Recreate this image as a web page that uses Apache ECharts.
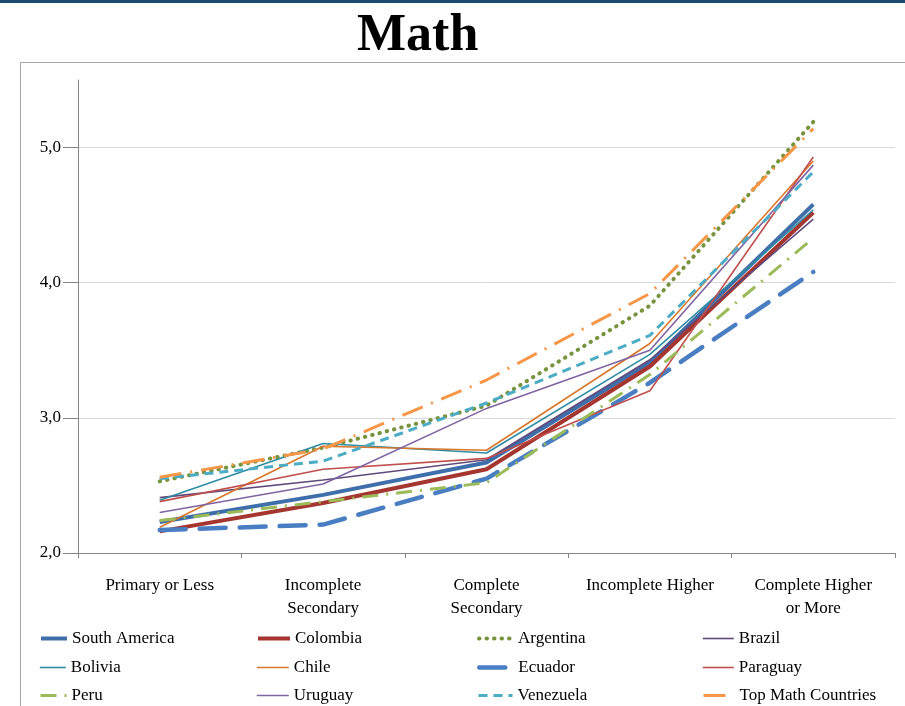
<!DOCTYPE html>
<html>
<head>
<meta charset="utf-8">
<style>html,body{margin:0;padding:0;background:#fff;}#c{width:905px;height:706px;}</style>
<script src="https://cdn.jsdelivr.net/npm/echarts@6/dist/echarts.min.js"></script>
</head>
<body>
<div id="c"></div>
<script>
var categories = ['Primary or Less', 'Incomplete\nSecondary', 'Complete\nSecondary', 'Incomplete Higher', 'Complete Higher\nor More'];
var yTicks = [2, 3, 4, 5];

var southAmerica = [2.23, 2.43, 2.67, 3.41, 4.58];
var colombia     = [2.16, 2.37, 2.62, 3.38, 4.52];
var argentina    = [2.53, 2.78, 3.09, 3.83, 5.19];
var brazil       = [2.41, 2.54, 2.69, 3.43, 4.47];
var bolivia      = [2.39, 2.81, 2.74, 3.47, 4.54];
var chile        = [2.19, 2.79, 2.76, 3.55, 4.90];
var ecuador      = [2.17, 2.21, 2.55, 3.26, 4.08];
var paraguay     = [2.38, 2.62, 2.70, 3.20, 4.93];
var peru         = [2.24, 2.38, 2.52, 3.32, 4.33];
var uruguay      = [2.30, 2.51, 3.07, 3.50, 4.87];
var venezuela    = [2.55, 2.68, 3.11, 3.61, 4.82];
var topMath      = [2.56, 2.77, 3.28, 3.92, 5.14];

var seriesDefs = [
  {name: 'South America', data: southAmerica, color: '#3F6FAA', width: 4, type: 'solid'},
  {name: 'Colombia', data: colombia, color: '#A5352F', width: 4, type: 'solid'},
  {name: 'Argentina', data: argentina, color: '#77933C', width: 4, type: [0.5, 7], cap: 'round'},
  {name: 'Brazil', data: brazil, color: '#604A7B', width: 1.6, type: 'solid'},
  {name: 'Bolivia', data: bolivia, color: '#2E8CA3', width: 1.6, type: 'solid'},
  {name: 'Chile', data: chile, color: '#D9772B', width: 1.6, type: 'solid'},
  {name: 'Ecuador', data: ecuador, color: '#4A7EC2', width: 4.5, type: [26, 14], cap: 'round'},
  {name: 'Paraguay', data: paraguay, color: '#C0504D', width: 1.6, type: 'solid'},
  {name: 'Peru', data: peru, color: '#9BBB59', width: 3, type: [16, 8, 2, 8]},
  {name: 'Uruguay', data: uruguay, color: '#8064A2', width: 1.6, type: 'solid'},
  {name: 'Venezuela', data: venezuela, color: '#4BACC6', width: 3, type: [9, 6]},
  {name: 'Top Math Countries', data: topMath, color: '#F79646', width: 3, type: [22, 9, 2, 9]}
];

var legendCols = [39, 256, 477, 702];
var legendWidths = [26, 32, 34, 31];
var legendRows = [630, 659, 687];

var FONT = '"Liberation Serif", "Times New Roman", serif';

var chart = echarts.init(document.getElementById('c'), null, {renderer: 'canvas'});

var legends = seriesDefs.map(function (s, i) {
  var col = i % 4, row = Math.floor(i / 4);
  return {
    data: [s.name],
    left: legendCols[col],
    top: legendRows[row],
    itemWidth: legendWidths[col],
    itemHeight: 14,
    padding: 0,
    selectedMode: false,
    itemStyle: {opacity: 0},
    lineStyle: {width: s.width, type: s.type, cap: s.cap || 'butt', color: s.color},
    textStyle: {fontFamily: FONT, fontSize: 17, color: '#000'}
  };
});

var option = {
  animation: false,
  backgroundColor: '#fff',
  title: {
    text: 'Math',
    left: 357,
    top: 11,
    padding: 0,
    textStyle: {fontFamily: FONT, fontSize: 52, fontWeight: 'bold', color: '#000'}
  },
  graphic: [
    {type: 'rect', shape: {x: 0, y: 0, width: 905, height: 3}, style: {fill: '#1B4A73'}, silent: true},
    {type: 'polyline', shape: {points: [[20.5, 706], [20.5, 62.5], [905, 62.5]]}, style: {stroke: '#A6A6A6', lineWidth: 1, fill: null}, silent: true}
  ],
  legend: legends,
  grid: {left: 78, right: 10, top: 80, bottom: 153, containLabel: false},
  xAxis: {
    type: 'category',
    data: categories,
    boundaryGap: true,
    axisLine: {lineStyle: {color: '#868686', width: 1}},
    axisTick: {show: true, length: 5, lineStyle: {color: '#868686'}},
    axisLabel: {fontFamily: FONT, fontSize: 17, color: '#000', margin: 21, lineHeight: 23, interval: 0}
  },
  yAxis: {
    type: 'value',
    min: 2,
    max: 5.5,
    interval: 1,
    axisLine: {show: true, lineStyle: {color: '#868686', width: 1}},
    axisTick: {show: true, length: 15, lineStyle: {color: '#868686'}, customValues: yTicks},
    axisLabel: {
      fontFamily: FONT, fontSize: 17, color: '#000', margin: 17,
      customValues: yTicks,
      formatter: function (v) { return (v % 1 === 0) ? v.toFixed(1).replace('.', ',') : ''; }
    },
    splitLine: {show: true, lineStyle: {color: ['#D9D9D9', '#D9D9D9', '#D9D9D9', '#D9D9D9', 'rgba(0,0,0,0)'], width: 1}}
  },
  series: seriesDefs.map(function (s) {
    return {
      name: s.name,
      type: 'line',
      data: s.data,
      symbol: 'none',
      smooth: false,
      color: s.color,
      lineStyle: {color: s.color, width: s.width, type: s.type, cap: s.cap || 'butt'},
      emphasis: {disabled: true}
    };
  })
};
chart.setOption(option);
</script>
</body>
</html>
